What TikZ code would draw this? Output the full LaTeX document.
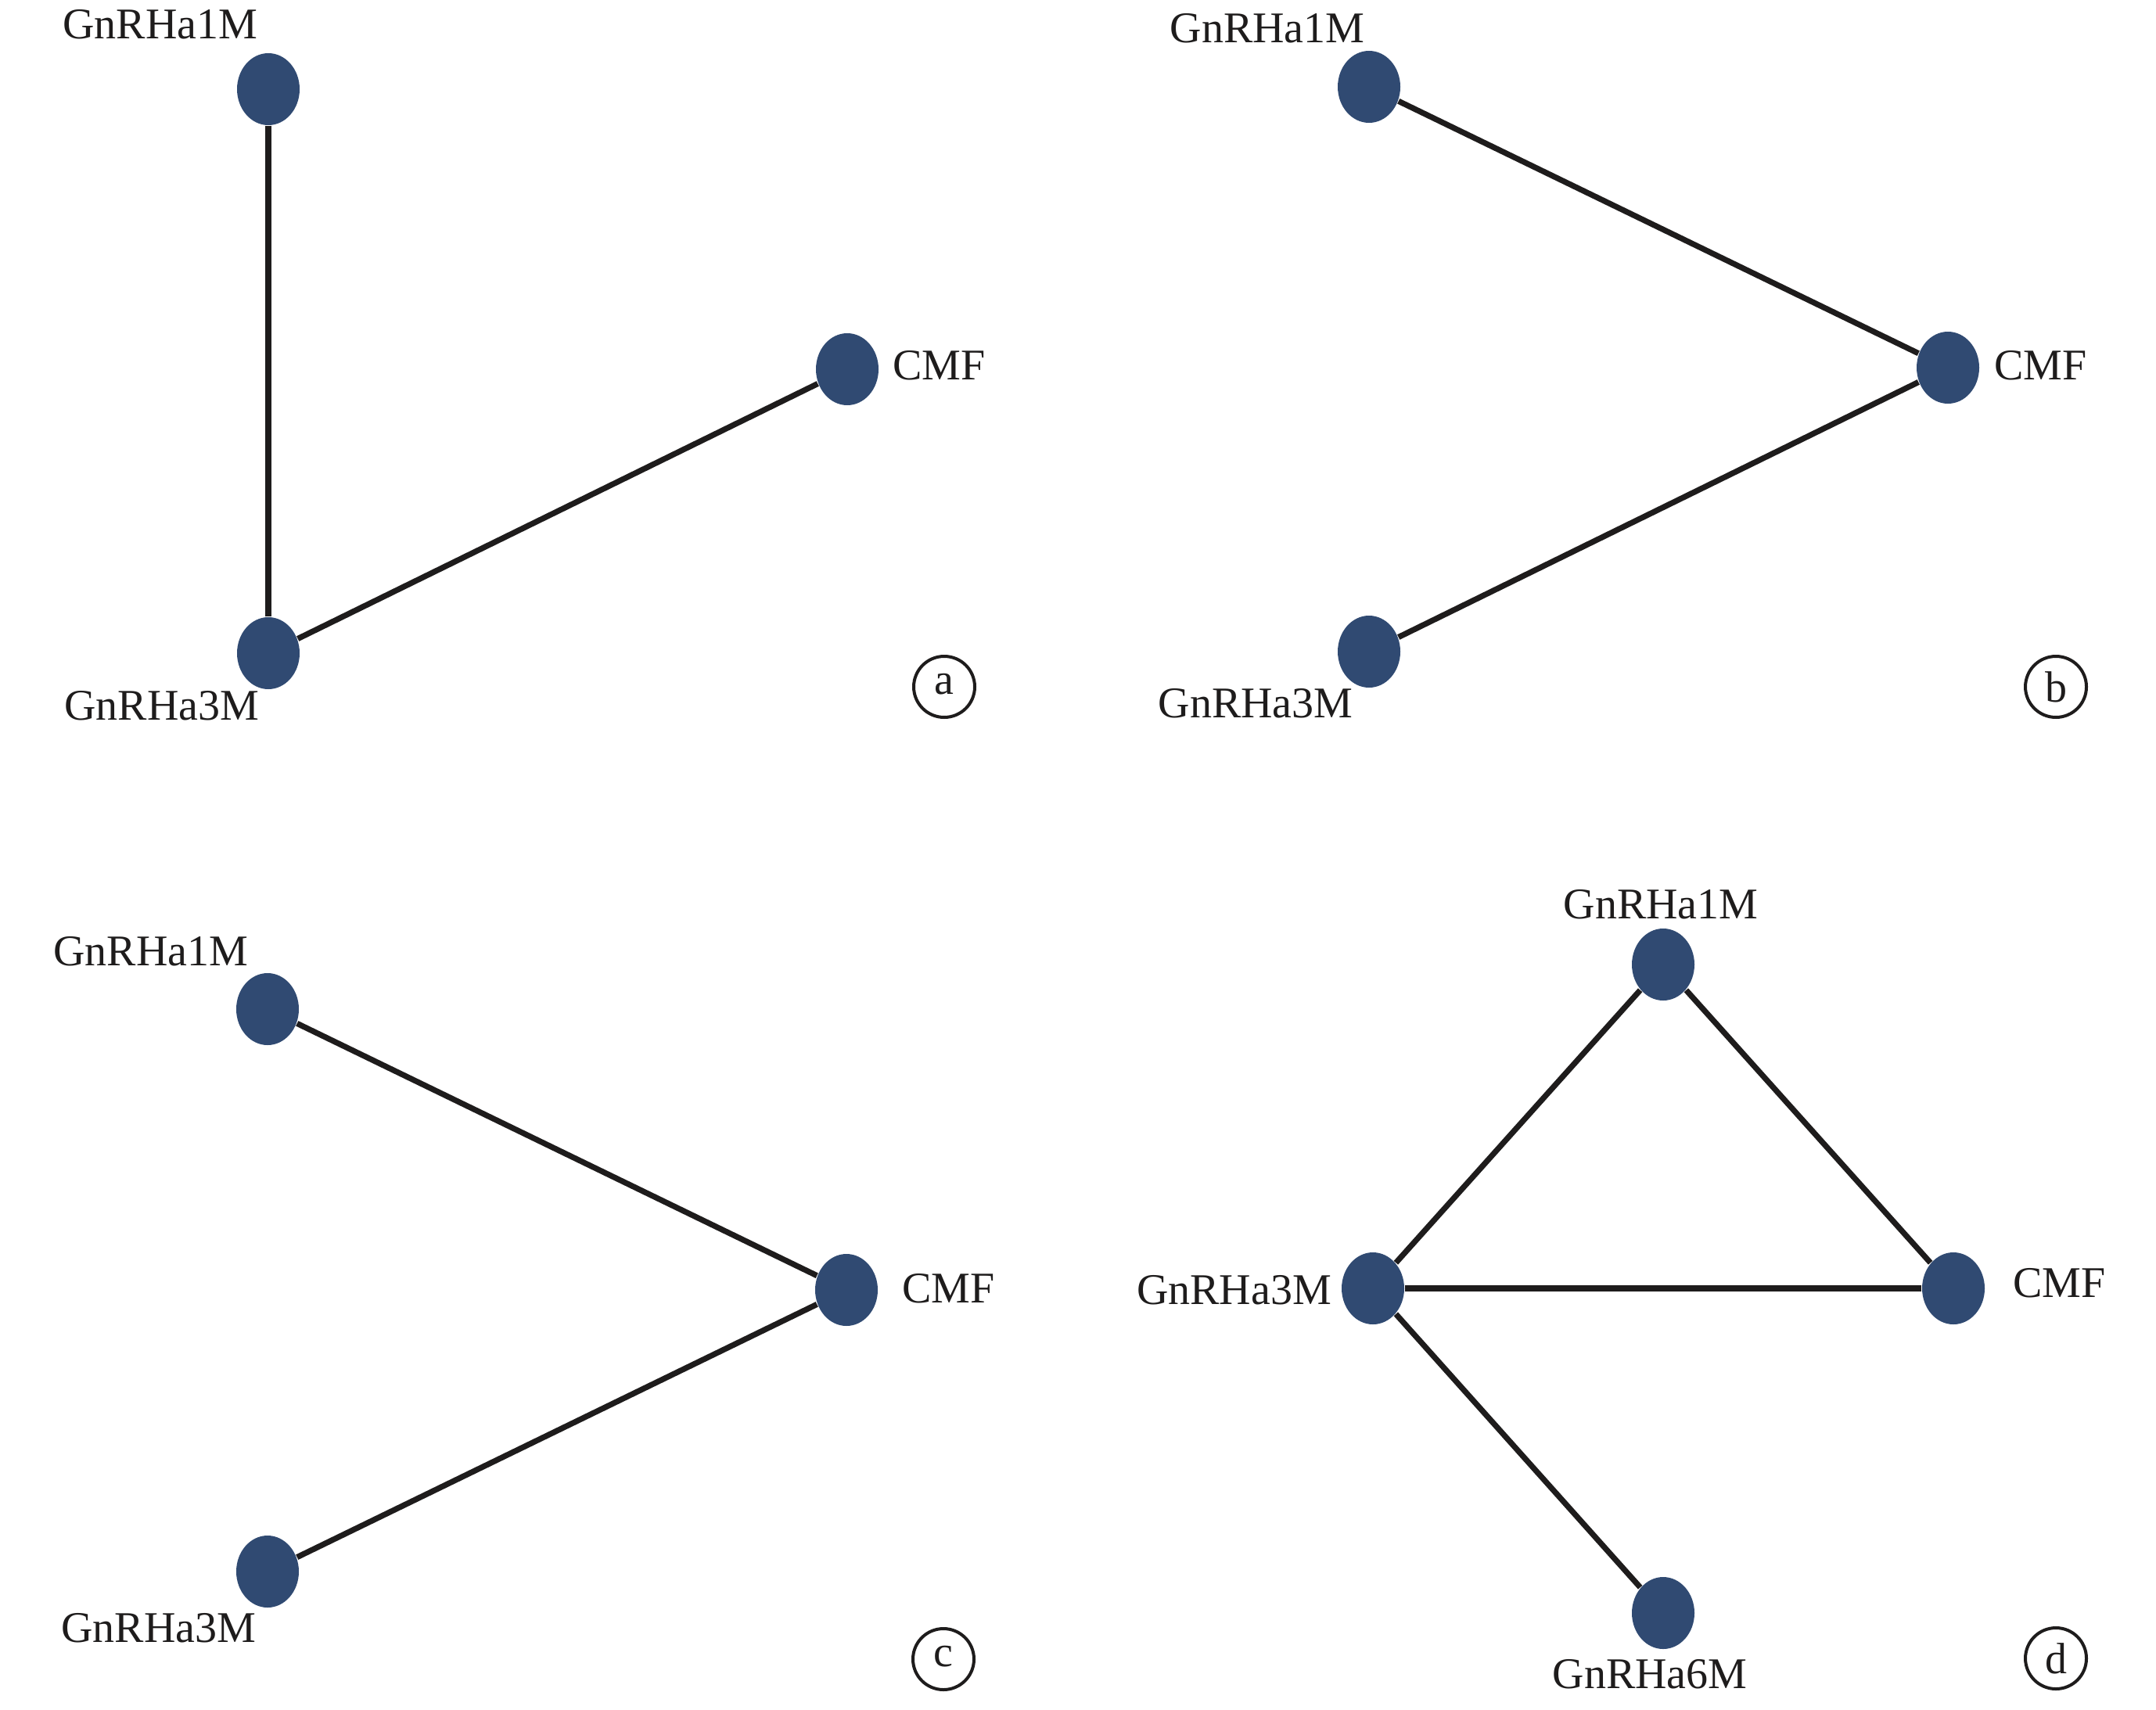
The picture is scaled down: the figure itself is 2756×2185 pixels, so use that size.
\documentclass[tikz,border=0pt]{standalone}
\usepackage{fontspec}
\setmainfont{Liberation Serif}
\usetikzlibrary{shapes.geometric}
\definecolor{nodeblue}{RGB}{48,74,114}
\definecolor{edgeblack}{RGB}{30,28,28}
\tikzset{
  netnode/.style={ellipse, fill=nodeblue, draw=none, inner sep=0pt, minimum width=16pt, minimum height=18.4pt},
  edge/.style={draw=edgeblack, line width=1.45pt},
  lbl/.style={inner sep=0pt, font=\fontsize{11.2pt}{13pt}\selectfont, text=edgeblack},
  tag/.style={circle, draw=edgeblack, line width=0.8pt, minimum size=15.6pt, inner sep=0pt, font=\fontsize{11.2pt}{13pt}\selectfont, text=edgeblack}
}
\begin{document}
\begin{tikzpicture}[x=0.2pt, y=-0.2pt]
\useasboundingbox (0,0) rectangle (2756,2185);
% panel a
\node[netnode] (a1) at (343,114) {};
\node[netnode] (a3) at (343,835) {};
\node[netnode] (ac) at (1083,472) {};
\draw[edge] (a1) -- (a3);
\draw[edge] (a3) -- (ac);
\node[lbl, anchor=base] (la1) at (205,50) {GnRHa1M};
\node[lbl, anchor=base] (la3) at (207,920) {GnRHa3M};
\node[lbl, anchor=base west] (lac) at (1140,485) {CMF};
\node[tag] (ta) at (1207,878) {\raisebox{0.3ex}{a}};
% panel b
\node[netnode] (b1) at (1750,111) {};
\node[netnode] (b3) at (1750,833) {};
\node[netnode] (bc) at (2490,470) {};
\draw[edge] (b1) -- (bc);
\draw[edge] (b3) -- (bc);
\node[lbl, anchor=base] (lb1) at (1620,55) {GnRHa1M};
\node[lbl, anchor=base] (lb3) at (1605,917) {GnRHa3M};
\node[lbl, anchor=base west] (lbc) at (2548,485) {CMF};
\node[tag] (tb) at (2628,878) {b};
% panel c
\node[netnode] (c1) at (342,1290) {};
\node[netnode] (c3) at (342,2009) {};
\node[netnode] (cc) at (1082,1649) {};
\draw[edge] (c1) -- (cc);
\draw[edge] (c3) -- (cc);
\node[lbl, anchor=base] (lc1) at (193,1234) {GnRHa1M};
\node[lbl, anchor=base] (lc3) at (203,2099) {GnRHa3M};
\node[lbl, anchor=base west] (lcc) at (1152,1665) {CMF};
\node[tag] (tc) at (1206,2121) {\raisebox{0.3ex}{c}};
% panel d
\node[netnode] (d1) at (2126,1233) {};
\node[netnode] (d3) at (1755,1647) {};
\node[netnode] (dc) at (2497,1647) {};
\node[netnode] (d6) at (2126,2062) {};
\draw[edge] (d3) -- (d1);
\draw[edge] (d1) -- (dc);
\draw[edge, line width=1.6pt] (d3) -- (dc);
\draw[edge] (d3) -- (d6);
\node[lbl, anchor=base] (ld1) at (2123,1174) {GnRHa1M};
\node[lbl, anchor=base east] (ld3) at (1703,1667) {GnRHa3M};
\node[lbl, anchor=base west] (ldc) at (2572,1658) {CMF};
\node[lbl, anchor=base] (ld6) at (2109,2158) {GnRHa6M};
\node[tag] (td) at (2628,2120) {d};
\end{tikzpicture}
\end{document}
